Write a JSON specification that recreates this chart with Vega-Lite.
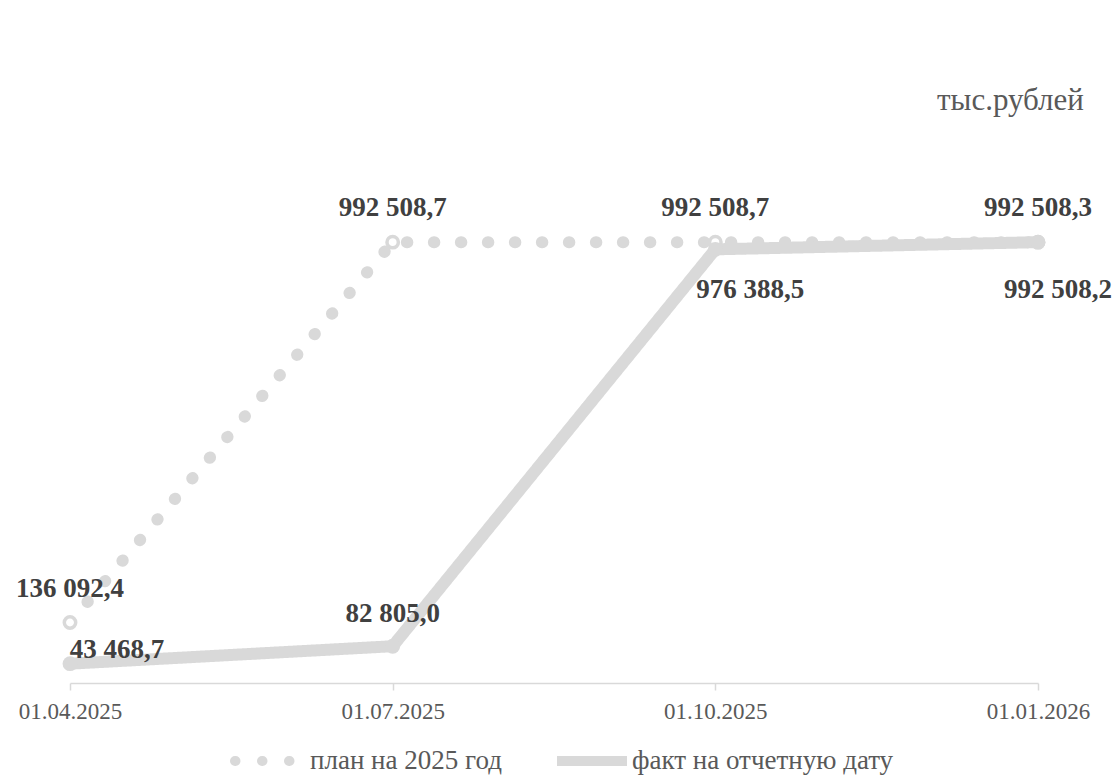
{
  "$schema": "https://vega.github.io/schema/vega-lite/v6.json",
  "width": 968,
  "height": 533,
  "autosize": {"type": "none"},
  "padding": {"left": 70, "top": 150, "right": 79, "bottom": 96},
  "config": {
    "view": {"stroke": null},
    "font": "Liberation Serif",
    "legend": {"labelFont": "Liberation Serif"},
    "axis": {"labelFont": "Liberation Serif"},
    "locale": {"number": {"decimal": ",", "thousands": " ", "grouping": [3], "currency": ["", ""]}}
  },
  "title": {"text": "тыс.рублей", "anchor": "start", "align": "left", "frame": "group", "dx": 867, "offset": 33, "fontSize": 31, "fontWeight": "normal", "color": "#595959", "font": "Liberation Serif"},
  "data": {"values": [
    {"date": "01.04.2025", "series": "план на 2025 год", "value": 136092.4},
    {"date": "01.07.2025", "series": "план на 2025 год", "value": 992508.7},
    {"date": "01.10.2025", "series": "план на 2025 год", "value": 992508.7},
    {"date": "01.01.2026", "series": "план на 2025 год", "value": 992508.3},
    {"date": "01.04.2025", "series": "факт на отчетную дату", "value": 43468.7},
    {"date": "01.07.2025", "series": "факт на отчетную дату", "value": 82805.0},
    {"date": "01.10.2025", "series": "факт на отчетную дату", "value": 976388.5},
    {"date": "01.01.2026", "series": "факт на отчетную дату", "value": 992508.2}
  ]},
  "encoding": {
    "x": {"field": "date", "type": "ordinal", "sort": null, "scale": {"type": "point", "padding": 0},
      "axis": {"title": null, "labelAngle": 0, "labelFontSize": 23, "labelColor": "#595959", "labelFont": "Liberation Serif", "labelPadding": 10, "domainColor": "#d9d9d9", "domainWidth": 1.5, "tickColor": "#d9d9d9", "tickWidth": 1.5, "tickSize": 7, "grid": false}},
    "y": {"field": "value", "type": "quantitative", "scale": {"domain": [0, 1200000]}, "axis": null}
  },
  "layer": [
    {
      "transform": [{"filter": "datum.series === 'план на 2025 год'"}],
      "mark": {"type": "line", "strokeWidth": 12, "strokeCap": "round"},
      "encoding": {
        "color": {"field": "series", "type": "nominal", "scale": {"domain": ["план на 2025 год", "факт на отчетную дату"], "range": ["#d9d9d9", "#d9d9d9"]},
          "legend": {"orient": "none", "legendX": 160, "legendY": 571, "direction": "horizontal", "title": null, "symbolType": "stroke", "symbolStrokeWidth": 10, "symbolSize": 4900, "labelFontSize": 27, "labelColor": "#595959", "labelFont": "Liberation Serif", "labelLimit": 0, "columnPadding": 35, "labelOffset": 0,
            "encode": {"symbols": {"update": {"strokeCap": [{"test": "datum.value === 'факт на отчетную дату'", "value": "butt"}, {"value": "round"}]}}, "labels": {"update": {"font": {"value": "Liberation Serif"}}}}}},
        "strokeDash": {"field": "series", "type": "nominal", "scale": {"domain": ["план на 2025 год", "факт на отчетную дату"], "range": [[0.5, 26.5], [1, 0]]}, "legend": null}
      }
    },
    {
      "transform": [{"filter": "datum.series === 'план на 2025 год'"}],
      "mark": {"type": "point", "shape": "circle", "filled": true, "fill": "white", "stroke": "#d9d9d9", "strokeWidth": 3.5, "size": 130, "opacity": 1}
    },
    {
      "transform": [{"filter": "datum.series === 'факт на отчетную дату'"}],
      "mark": {"type": "line", "strokeWidth": 12},
      "encoding": {
        "color": {"field": "series", "type": "nominal"},
        "strokeDash": {"field": "series", "type": "nominal"}
      }
    },
    {
      "transform": [{"filter": "datum.series === 'факт на отчетную дату'"}],
      "mark": {"type": "point", "shape": "circle", "filled": true, "color": "#d9d9d9", "size": 220, "opacity": 1}
    },
    {
      "transform": [{"filter": "datum.series === 'план на 2025 год'"}],
      "mark": {"type": "text", "fontSize": 27, "fontWeight": "bold", "color": "#404040", "dy": -34, "baseline": "middle", "font": "Liberation Serif"},
      "encoding": {"text": {"field": "value", "type": "quantitative", "format": ",.1f"}}
    },
    {
      "transform": [{"filter": "datum.series === 'факт на отчетную дату' && datum.date === '01.04.2025'"}],
      "mark": {"type": "text", "fontSize": 27, "fontWeight": "bold", "color": "#404040", "dx": 47, "dy": -14, "baseline": "middle", "font": "Liberation Serif"},
      "encoding": {"text": {"field": "value", "type": "quantitative", "format": ",.1f"}}
    },
    {
      "transform": [{"filter": "datum.series === 'факт на отчетную дату' && datum.date === '01.07.2025'"}],
      "mark": {"type": "text", "fontSize": 27, "fontWeight": "bold", "color": "#404040", "dx": 0, "dy": -32, "baseline": "middle", "font": "Liberation Serif"},
      "encoding": {"text": {"field": "value", "type": "quantitative", "format": ",.1f"}}
    },
    {
      "transform": [{"filter": "datum.series === 'факт на отчетную дату' && datum.date === '01.10.2025'"}],
      "mark": {"type": "text", "fontSize": 27, "fontWeight": "bold", "color": "#404040", "dx": 35, "dy": 41, "baseline": "middle", "font": "Liberation Serif"},
      "encoding": {"text": {"field": "value", "type": "quantitative", "format": ",.1f"}}
    },
    {
      "transform": [{"filter": "datum.series === 'факт на отчетную дату' && datum.date === '01.01.2026'"}],
      "mark": {"type": "text", "fontSize": 27, "fontWeight": "bold", "color": "#404040", "dx": 20, "dy": 48, "baseline": "middle", "font": "Liberation Serif"},
      "encoding": {"text": {"field": "value", "type": "quantitative", "format": ",.1f"}}
    }
  ]
}
